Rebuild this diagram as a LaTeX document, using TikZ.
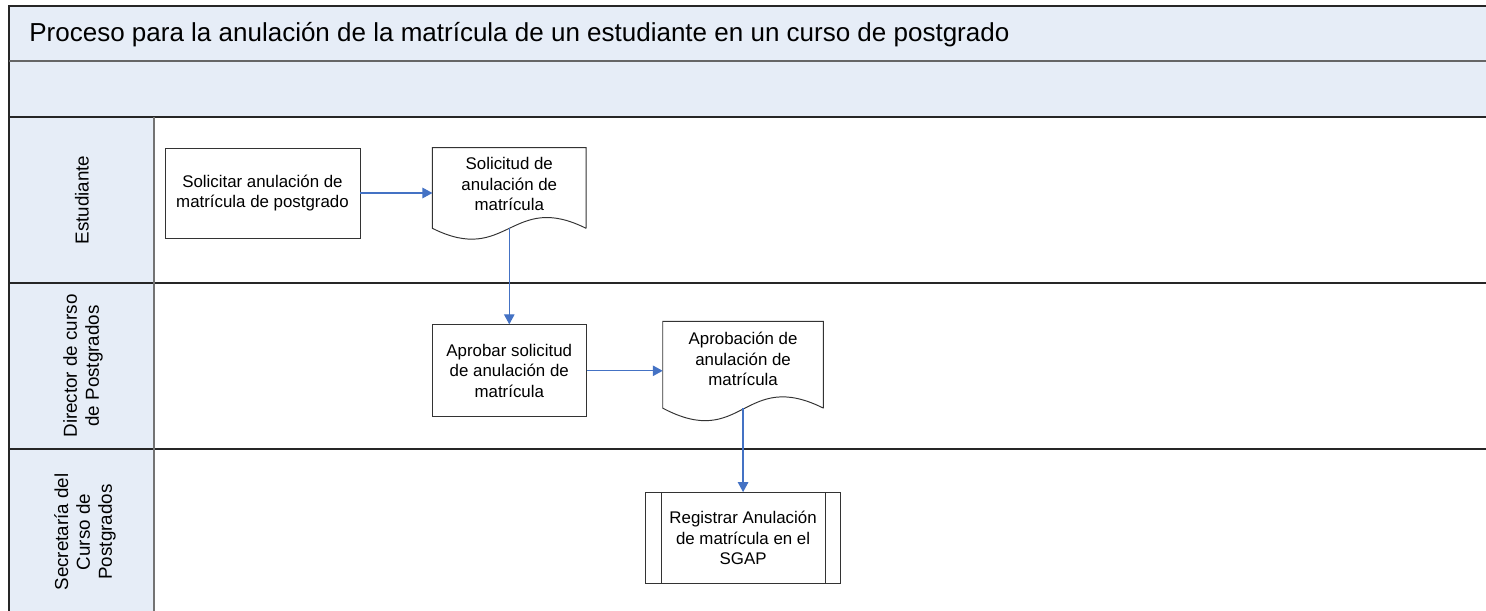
\documentclass[tikz,border=0pt]{standalone}
\usepackage{fontspec}
\setmainfont{Liberation Sans}
\usetikzlibrary{arrows.meta,positioning}
\definecolor{bandblue}{RGB}{230,237,247}
\definecolor{flowblue}{RGB}{68,114,196}

\begin{document}
\begin{tikzpicture}[x=0.02cm,y=-0.02cm,
box/.style={draw=black!80,line width=0.55pt,align=center,inner sep=0pt,font=\fontsize{9.6}{11.8}\selectfont},
doc/.style={align=center,inner sep=0pt,font=\fontsize{9.6}{11.8}\selectfont},
docline/.style={draw=black!80,line width=0.55pt},
lanelbl/.style={rotate=90,align=center,font=\fontsize{10.7}{12.4}\selectfont},
frame/.style={line width=1.1pt,draw=black!85},
arr/.style={-{Triangle[length=2mm,width=2.1mm]},draw=flowblue,fill=flowblue,line width=0.7pt}]
\clip (0,0) rectangle (1486,611);
% pool and lanes
\fill[bandblue] (9,6) rectangle (1490,117);
\fill[bandblue] (9,117) rectangle (154,620);
\draw[frame] (1490,6) -- (9,6) -- (9,620);
\draw[frame,draw=black!60] (9,61) -- (1490,61);
\draw[frame] (9,117) -- (1490,117);
\draw[frame] (9,283) -- (1490,283);
\draw[frame] (9,449) -- (1490,449);
\draw[line width=0.8pt,draw=black!55] (154,117) -- (154,620);
\node[anchor=base west,inner sep=0pt,font=\fontsize{14.8}{17}\selectfont] (title) at (29,42) {Proceso para la anulación de la matrícula de un estudiante en un curso de postgrado};
\node[lanelbl] (estudiante) at (82,200) {Estudiante};
\node[lanelbl] (director) at (83,366) {Director de curso\\de Postgrados};
\node[lanelbl] (secretaria) at (85,532) {Secretaría del\\Curso de\\Postgrados};
% flow
\node[box,minimum width=3.9cm,minimum height=1.8cm] (solicitar) at (262.5,193) {Solicitar anulación de\\matrícula de postgrado};
\node[doc,minimum width=3.06cm,minimum height=1.6cm,text depth=0.16cm,right=1.44cm of solicitar,yshift=0.1cm] (solicitud) {Solicitud de\\anulación de\\matrícula};
\node[box,minimum width=3.08cm,minimum height=1.84cm,below=1.92cm of solicitud] (aprobar) {Aprobar solicitud\\de anulación de\\matrícula};
\node[doc,minimum width=3.2cm,minimum height=1.72cm,text depth=0.24cm,right=1.52cm of aprobar,yshift=0.12cm] (aprobacion) {Aprobación de\\anulación de\\matrícula};
\node[box,minimum width=3.9cm,minimum height=1.82cm,below=1.68cm of aprobacion] (registrar) {Registrar Anulación\\de matrícula en el\\SGAP};
\draw[docline] (solicitud.south east) -- (solicitud.north east) -- (solicitud.north west) -- (solicitud.south west) .. controls +(1.5cm,-0.75cm) and +(-1.5cm,0.75cm) .. (solicitud.south east);
\draw[docline] (aprobacion.south east) -- (aprobacion.north east) -- (aprobacion.north west) -- (aprobacion.south west) .. controls +(1.6cm,-0.85cm) and +(-1.6cm,0.8cm) .. (aprobacion.south east);
\draw[docline] ([xshift=0.32cm]registrar.north west) -- ([xshift=0.32cm]registrar.south west) ([xshift=-0.32cm]registrar.north east) -- ([xshift=-0.32cm]registrar.south east);
\draw[arr] (solicitar.east) -- (solicitar.east -| solicitud.west);
\draw[arr] (solicitud.south) -- (aprobar.north);
\draw[arr] (aprobar.east) -- (aprobar.east -| aprobacion.west);
\draw[arr] (aprobacion.south) -- (registrar.north);
\end{tikzpicture}
\end{document}
